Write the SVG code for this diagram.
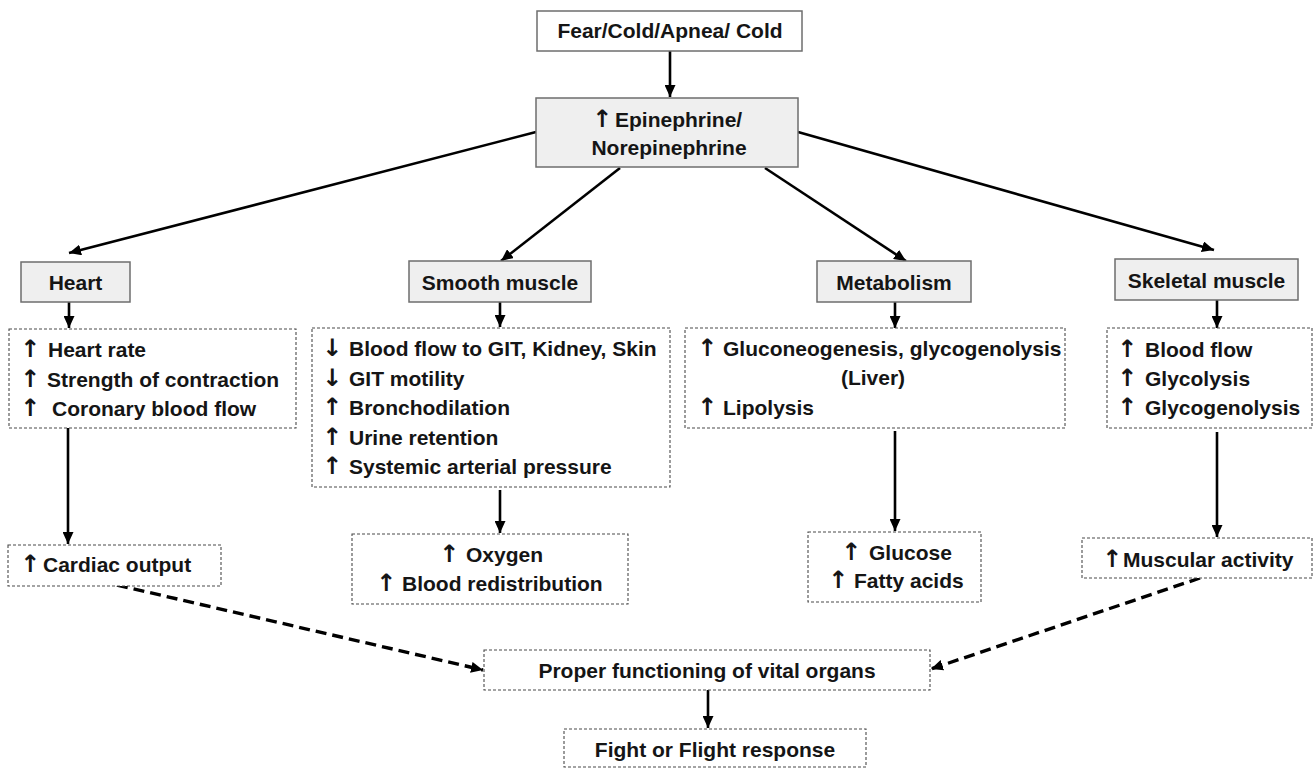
<svg xmlns="http://www.w3.org/2000/svg" width="1315" height="768" viewBox="0 0 1315 768">
<style>
  text { font-family: "Liberation Sans", Arial, sans-serif; font-size: 21px; font-weight: bold; fill: #151515; }
  .c { text-anchor: middle; }
  .ar { font-weight: bold; font-family: "DejaVu Sans", "Liberation Sans", sans-serif; font-size: 24px; }
  .solid { fill: #ffffff; stroke: #6e6e6e; stroke-width: 1.5; }
  .gray { fill: #efefef; stroke: #6e6e6e; stroke-width: 1.5; }
  .dash { fill: #ffffff; stroke: #4a4a4a; stroke-width: 1.1; stroke-dasharray: 3 2; }
  .conn { stroke: #000; stroke-width: 2.6; fill: none; marker-end: url(#ah); }
  .dconn { stroke: #000; stroke-width: 3.4; fill: none; stroke-dasharray: 11 6; marker-end: url(#ah); }
</style>
<defs>
  <marker id="ah" markerUnits="userSpaceOnUse" markerWidth="13" markerHeight="11" refX="12" refY="5.5" orient="auto">
    <path d="M0,0 L12,5.5 L0,11 z" fill="#000"/>
  </marker>
</defs>

<g id="connectors">
  <line class="conn" x1="670" y1="51" x2="670" y2="97"/>
  <line class="conn" x1="536" y1="132" x2="69" y2="253"/>
  <line class="conn" x1="620" y1="168" x2="501" y2="261"/>
  <line class="conn" x1="765" y1="168" x2="906" y2="261"/>
  <line class="conn" x1="798" y1="132" x2="1214" y2="250"/>
  <line class="conn" x1="69" y1="302" x2="69" y2="328"/>
  <line class="conn" x1="500" y1="302" x2="500" y2="327"/>
  <line class="conn" x1="895" y1="302" x2="895" y2="328"/>
  <line class="conn" x1="1217" y1="300" x2="1217" y2="328"/>
  <line class="conn" x1="68" y1="428" x2="68" y2="544"/>
  <line class="conn" x1="500" y1="490" x2="500" y2="533"/>
  <line class="conn" x1="895" y1="431" x2="895" y2="531"/>
  <line class="conn" x1="1217" y1="432" x2="1217" y2="537"/>
  <line class="dconn" x1="117" y1="585" x2="483" y2="670"/>
  <line class="dconn" x1="1200" y1="578" x2="931" y2="669"/>
  <line class="conn" x1="708" y1="690" x2="708" y2="728"/>
</g>

<g id="trigger">
  <rect class="solid" x="537" y="11" width="265" height="40"/>
  <text class="c" x="670" y="38">Fear/Cold/Apnea/ Cold</text>
</g>

<g id="epinephrine">
  <rect class="gray" x="536" y="98" width="262" height="69"/>
  <text y="127"><tspan class="ar" x="592">↑</tspan><tspan x="615">Epinephrine/</tspan></text>
  <text class="c" x="669" y="155">Norepinephrine</text>
</g>

<g id="heart">
  <rect class="gray" x="21" y="262" width="109" height="40"/>
  <text class="c" x="75.5" y="290">Heart</text>
</g>

<g id="smooth-muscle">
  <rect class="gray" x="409" y="261" width="182" height="41"/>
  <text class="c" x="500" y="290">Smooth muscle</text>
</g>

<g id="metabolism">
  <rect class="gray" x="817" y="261" width="154" height="41"/>
  <text class="c" x="894" y="290">Metabolism</text>
</g>

<g id="skeletal-muscle">
  <rect class="gray" x="1115" y="259" width="183" height="41"/>
  <text class="c" x="1206.5" y="288">Skeletal muscle</text>
</g>

<g id="heart-effects">
  <rect class="dash" x="9" y="329" width="287" height="99"/>
  <text y="357"><tspan class="ar" x="20">↑</tspan><tspan x="48">Heart rate</tspan></text>
  <text y="386.5"><tspan class="ar" x="20">↑</tspan><tspan x="47">Strength of contraction</tspan></text>
  <text y="416"><tspan class="ar" x="20">↑</tspan><tspan x="52">Coronary blood flow</tspan></text>
</g>

<g id="smooth-effects">
  <rect class="dash" x="312" y="328" width="358" height="159"/>
  <text y="356"><tspan class="ar" x="322">↓</tspan><tspan x="349">Blood flow to GIT, Kidney, Skin</tspan></text>
  <text y="385.5"><tspan class="ar" x="322">↓</tspan><tspan x="349">GIT motility</tspan></text>
  <text y="415"><tspan class="ar" x="322">↑</tspan><tspan x="349">Bronchodilation</tspan></text>
  <text y="444.5"><tspan class="ar" x="322">↑</tspan><tspan x="349">Urine retention</tspan></text>
  <text y="474"><tspan class="ar" x="322">↑</tspan><tspan x="349">Systemic arterial pressure</tspan></text>
</g>

<g id="metabolism-effects">
  <rect class="dash" x="685" y="328" width="380" height="100"/>
  <text y="356"><tspan class="ar" x="697">↑</tspan><tspan x="723">Gluconeogenesis, glycogenolysis</tspan></text>
  <text class="c" x="873" y="385">(Liver)</text>
  <text y="415"><tspan class="ar" x="697">↑</tspan><tspan x="723">Lipolysis</tspan></text>
</g>

<g id="skeletal-effects">
  <rect class="dash" x="1107" y="328" width="205" height="100"/>
  <text y="357"><tspan class="ar" x="1117">↑</tspan><tspan x="1145">Blood flow</tspan></text>
  <text y="386"><tspan class="ar" x="1117">↑</tspan><tspan x="1145">Glycolysis</tspan></text>
  <text y="415"><tspan class="ar" x="1117">↑</tspan><tspan x="1145">Glycogenolysis</tspan></text>
</g>

<g id="cardiac-output">
  <rect class="dash" x="8" y="545" width="213" height="41"/>
  <text y="572"><tspan class="ar" x="20">↑</tspan><tspan x="43">Cardiac output</tspan></text>
</g>

<g id="oxygen">
  <rect class="dash" x="352" y="534" width="276" height="70"/>
  <text y="562"><tspan class="ar" x="439">↑</tspan><tspan x="466">Oxygen</tspan></text>
  <text y="591"><tspan class="ar" x="376">↑</tspan><tspan x="402">Blood redistribution</tspan></text>
</g>

<g id="glucose">
  <rect class="dash" x="808" y="532" width="173" height="70"/>
  <text y="560"><tspan class="ar" x="841">↑</tspan><tspan x="869">Glucose</tspan></text>
  <text y="588"><tspan class="ar" x="828">↑</tspan><tspan x="854">Fatty acids</tspan></text>
</g>

<g id="muscular-activity">
  <rect class="dash" x="1082" y="538" width="230" height="40"/>
  <text y="567"><tspan class="ar" x="1102">↑</tspan><tspan x="1123">Muscular activity</tspan></text>
</g>

<g id="proper-functioning">
  <rect class="dash" x="484" y="650" width="446" height="40"/>
  <text class="c" x="707" y="678">Proper functioning of vital organs</text>
</g>

<g id="fight-or-flight">
  <rect class="dash" x="564" y="729" width="302" height="38"/>
  <text class="c" x="715" y="757">Fight or Flight response</text>
</g>
</svg>
